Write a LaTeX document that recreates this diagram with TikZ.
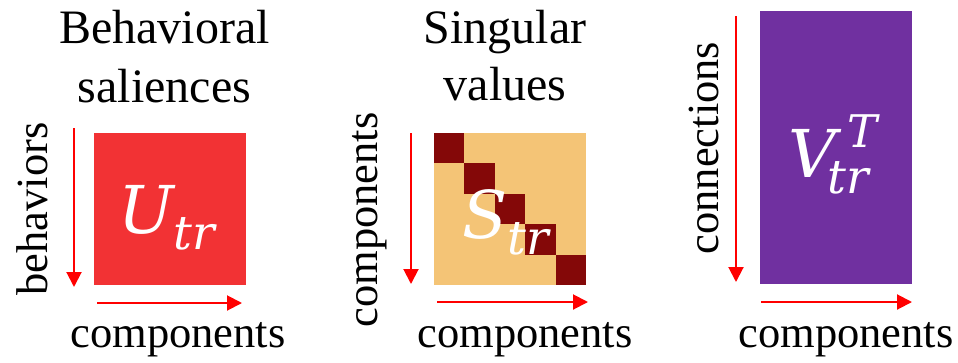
\documentclass[tikz,border=0pt]{standalone}
\usepackage{fontspec}
\setmainfont{Liberation Serif}
\newfontfamily\mfont{DejaVu Serif}
\usetikzlibrary{arrows.meta}
\definecolor{usq}{RGB}{242,50,52}
\definecolor{ssq}{RGB}{244,196,118}
\definecolor{sdg}{RGB}{132,8,8}
\definecolor{vsq}{RGB}{112,48,160}
\definecolor{arr}{RGB}{255,0,0}
\newcommand\bigit[1]{{\fontsize{66}{66}\selectfont\mfont\itshape #1}}
\newcommand\subit[1]{\raisebox{-16pt}{\fontsize{47}{47}\selectfont\mfont\itshape #1}}
\newcommand\supit[1]{\raisebox{30pt}{\fontsize{45}{45}\selectfont\mfont\itshape #1}}
\tikzset{
  axisarrow/.style={draw=arr, line width=2pt, -{Triangle[length=15pt,width=15pt]}},
  titletext/.style={font=\fontsize{48}{59}\selectfont, align=center, anchor=base, inner sep=0pt},
  labeltext/.style={font=\fontsize{44.5}{50}\selectfont, anchor=base, inner sep=0pt},
  sidelabel/.style={font=\fontsize{44.5}{50}\selectfont, anchor=base, rotate=90, inner sep=0pt},
  mathlabel/.style={text=white, inner sep=0pt, anchor=base west},
}
\begin{document}
\begin{tikzpicture}[x=1pt,y=-1pt]
\useasboundingbox (0,0) rectangle (958,362);
% ---------- Panel 1 ----------
\node[titletext] (t1a) at (164.5,43) {Behavioral};
\node[titletext] (t1b) at (164.5,102) {saliences};
\fill[usq] (94,133) rectangle (246,285);
\node[mathlabel] (ul) at (118,233) {\bigit{U}\subit{tr}};
\coordinate (v1s) at (74,128);
\coordinate (v1e) at (74,287);
\draw[axisarrow] (v1s) -- (v1e);
\coordinate (h1s) at (97,303);
\coordinate (h1e) at (242,303);
\draw[axisarrow] (h1s) -- (h1e);
\node[sidelabel] (l1v) at (47,209) {behaviors};
\node[labeltext] (l1h) at (178,347) {components};
% ---------- Panel 2 ----------
\node[titletext] (t2a) at (505,43) {Singular};
\node[titletext] (t2b) at (505,100) {values};
\fill[ssq] (434,133) rectangle (586,285);
\foreach \i in {0,...,4} {
  \fill[sdg] ({434+30.4*\i},{133+30.4*\i}) rectangle ({434+30.4*(\i+1)},{133+30.4*(\i+1)});
}
\node[mathlabel] (sl) at (462,238) {\bigit{S}\subit{tr}};
\coordinate (v2s) at (411,133);
\coordinate (v2e) at (411,284);
\draw[axisarrow] (v2s) -- (v2e);
\coordinate (h2s) at (437,302);
\coordinate (h2e) at (588,302);
\draw[axisarrow] (h2s) -- (h2e);
\node[sidelabel] (l2v) at (377,220) {components};
\node[labeltext] (l2h) at (525,347) {components};
% ---------- Panel 3 ----------
\fill[vsq] (760,11) rectangle (912,284);
\node[mathlabel] (vl) at (788,177) {\bigit{V}\hspace{-8pt}\rlap{\hspace{20pt}\supit{T}}\subit{tr}};
\coordinate (v3s) at (736,16);
\coordinate (v3e) at (736,282);
\draw[axisarrow] (v3s) -- (v3e);
\coordinate (h3s) at (761,302);
\coordinate (h3e) at (912,302);
\draw[axisarrow] (h3s) -- (h3e);
\node[sidelabel] (l3v) at (718,148) {connections};
\node[labeltext] (l3h) at (846,347) {components};
\end{tikzpicture}
\end{document}
